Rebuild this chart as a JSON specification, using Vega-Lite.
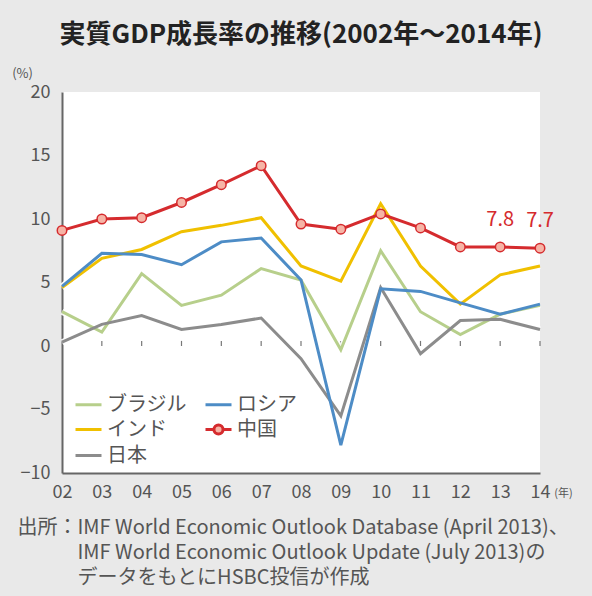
{
  "$schema": "https://vega.github.io/schema/vega-lite/v6.json",
  "autosize": "none",
  "width": 478,
  "height": 381,
  "padding": {"left": 62, "top": 92, "right": 52, "bottom": 123},
  "background": "#e9e9e9",
  "config": {
    "font": "Noto Sans CJK JP",
    "view": {"fill": "white", "stroke": null},
    "axis": {"grid": false, "labelFont": "Noto Sans CJK JP", "titleFont": "Noto Sans CJK JP"}
  },
  "title": {
    "text": "実質GDP成長率の推移(2002年～2014年)",
    "fontSize": 26,
    "fontWeight": "bold",
    "color": "#222",
    "anchor": "middle",
    "offset": 19
  },
  "resolve": {"axis": {"y": "independent"}},
  "data": {
    "values": [
      {"year": 2002, "country": "ブラジル", "value": 2.7},
      {"year": 2003, "country": "ブラジル", "value": 1.1},
      {"year": 2004, "country": "ブラジル", "value": 5.7},
      {"year": 2005, "country": "ブラジル", "value": 3.2},
      {"year": 2006, "country": "ブラジル", "value": 4.0},
      {"year": 2007, "country": "ブラジル", "value": 6.1},
      {"year": 2008, "country": "ブラジル", "value": 5.2},
      {"year": 2009, "country": "ブラジル", "value": -0.3},
      {"year": 2010, "country": "ブラジル", "value": 7.5},
      {"year": 2011, "country": "ブラジル", "value": 2.7},
      {"year": 2012, "country": "ブラジル", "value": 0.9},
      {"year": 2013, "country": "ブラジル", "value": 2.5},
      {"year": 2014, "country": "ブラジル", "value": 3.2},
      {"year": 2002, "country": "日本", "value": 0.3},
      {"year": 2003, "country": "日本", "value": 1.7},
      {"year": 2004, "country": "日本", "value": 2.4},
      {"year": 2005, "country": "日本", "value": 1.3},
      {"year": 2006, "country": "日本", "value": 1.7},
      {"year": 2007, "country": "日本", "value": 2.2},
      {"year": 2008, "country": "日本", "value": -1.0},
      {"year": 2009, "country": "日本", "value": -5.5},
      {"year": 2010, "country": "日本", "value": 4.6},
      {"year": 2011, "country": "日本", "value": -0.6},
      {"year": 2012, "country": "日本", "value": 2.0},
      {"year": 2013, "country": "日本", "value": 2.1},
      {"year": 2014, "country": "日本", "value": 1.3},
      {"year": 2002, "country": "インド", "value": 4.6},
      {"year": 2003, "country": "インド", "value": 6.9},
      {"year": 2004, "country": "インド", "value": 7.6},
      {"year": 2005, "country": "インド", "value": 9.0},
      {"year": 2006, "country": "インド", "value": 9.5},
      {"year": 2007, "country": "インド", "value": 10.1},
      {"year": 2008, "country": "インド", "value": 6.3},
      {"year": 2009, "country": "インド", "value": 5.1},
      {"year": 2010, "country": "インド", "value": 11.2},
      {"year": 2011, "country": "インド", "value": 6.3},
      {"year": 2012, "country": "インド", "value": 3.3},
      {"year": 2013, "country": "インド", "value": 5.6},
      {"year": 2014, "country": "インド", "value": 6.3},
      {"year": 2002, "country": "ロシア", "value": 4.7},
      {"year": 2003, "country": "ロシア", "value": 7.3},
      {"year": 2004, "country": "ロシア", "value": 7.2},
      {"year": 2005, "country": "ロシア", "value": 6.4},
      {"year": 2006, "country": "ロシア", "value": 8.2},
      {"year": 2007, "country": "ロシア", "value": 8.5},
      {"year": 2008, "country": "ロシア", "value": 5.2},
      {"year": 2009, "country": "ロシア", "value": -7.8},
      {"year": 2010, "country": "ロシア", "value": 4.5},
      {"year": 2011, "country": "ロシア", "value": 4.3},
      {"year": 2012, "country": "ロシア", "value": 3.4},
      {"year": 2013, "country": "ロシア", "value": 2.5},
      {"year": 2014, "country": "ロシア", "value": 3.3},
      {"year": 2002, "country": "中国", "value": 9.1},
      {"year": 2003, "country": "中国", "value": 10.0},
      {"year": 2004, "country": "中国", "value": 10.1},
      {"year": 2005, "country": "中国", "value": 11.3},
      {"year": 2006, "country": "中国", "value": 12.7},
      {"year": 2007, "country": "中国", "value": 14.2},
      {"year": 2008, "country": "中国", "value": 9.6},
      {"year": 2009, "country": "中国", "value": 9.2},
      {"year": 2010, "country": "中国", "value": 10.4},
      {"year": 2011, "country": "中国", "value": 9.3},
      {"year": 2012, "country": "中国", "value": 7.8},
      {"year": 2013, "country": "中国", "value": 7.8},
      {"year": 2014, "country": "中国", "value": 7.7}
    ]
  },
  "encoding": {
    "x": {
      "field": "year",
      "type": "quantitative",
      "scale": {"domain": [2002, 2014], "nice": false, "zero": false},
      "axis": {
        "values": [2002, 2003, 2004, 2005, 2006, 2007, 2008, 2009, 2010, 2011, 2012, 2013, 2014],
        "labelExpr": "slice(toString(datum.value), 2)",
        "labelFontSize": 18,
        "labelColor": "#555",
        "labelPadding": 10,
        "labelFlush": false,
        "labelOverlap": false,
        "labelBound": false,
        "ticks": false,
        "domainColor": "#666",
        "domainWidth": 2,
        "title": ["出所：IMF World Economic Outlook Database (April 2013)、", "\u200b\u3000\u3000\u3000IMF World Economic Outlook Update (July 2013)の", "\u200b\u3000\u3000\u3000データをもとにHSBC投信が作成"],
        "titleFontSize": 20,
        "titleFontWeight": "normal",
        "titleColor": "#555",
        "titleAlign": "left",
        "titleAnchor": "start",
        "titleBaseline": "top",
        "titleLineHeight": 25,
        "titleX": -45,
        "titleY": 44
      }
    }
  },
  "layer": [
    {
      "data": {"values": [{}]},
      "mark": {"type": "rule", "color": "#777", "strokeWidth": 1.5},
      "encoding": {"x": {"datum": 2002}, "x2": {"datum": 2014}, "y": {"datum": 0, "axis": null}}
    },
    {
      "transform": [{"filter": "datum.country === '中国' && datum.year > 2002"}],
      "mark": {"type": "rule", "color": "#777", "strokeWidth": 1.2},
      "encoding": {"y": {"datum": 0, "axis": null}, "y2": {"datum": 0.4}}
    },
    {
      "data": {"values": [{}]},
      "mark": {"type": "rule", "color": "#aaa", "strokeWidth": 1.2, "strokeDash": [7, 4]},
      "encoding": {"x": {"datum": 2013}, "y": {"datum": -10, "axis": null}, "y2": {"datum": 15.8}}
    },
    {
      "data": {"values": [{}]},
      "mark": {"type": "rule", "color": "#c4c4c4", "strokeWidth": 2.5},
      "encoding": {"x": {"datum": 2013}, "x2": {"datum": 2013.8}, "y": {"datum": 15.8, "axis": null}}
    },
    {
      "data": {"values": [{}]},
      "mark": {"type": "point", "shape": "triangle-right", "filled": true, "color": "#c4c4c4", "size": 110, "opacity": 1},
      "encoding": {"x": {"datum": 2013.8}, "y": {"datum": 15.8, "axis": null}}
    },
    {
      "data": {"values": [{}]},
      "mark": {"type": "text", "text": "予想", "fontSize": 19, "fontWeight": "bold", "color": "#333"},
      "encoding": {"x": {"datum": 2013}, "y": {"datum": 17.6, "axis": null}}
    },
    {
      "mark": {"type": "line", "color": "white", "strokeWidth": 6, "opacity": 0.9},
      "encoding": {
        "y": {
          "field": "value",
          "type": "quantitative",
          "axis": {
            "orient": "right",
            "labels": false,
            "ticks": false,
            "domain": false,
            "grid": false,
            "title": "(年)",
            "titleAngle": 0,
            "titleFontSize": 11,
            "titleFontWeight": "normal",
            "titleColor": "#555",
            "titleAlign": "center",
            "titleBaseline": "middle",
            "titleX": 23,
            "titleY": 401
          }
        },
        "detail": {"field": "country"}
      }
    },
    {
      "mark": {"type": "line", "strokeWidth": 3},
      "encoding": {
        "y": {
          "field": "value",
          "type": "quantitative",
          "scale": {"domain": [-10, 20], "nice": false},
          "axis": {
            "values": [-10, -5, 0, 5, 10, 15, 20],
            "labelFontSize": 18,
            "labelColor": "#555",
            "labelPadding": 12,
            "ticks": false,
            "domainColor": "#666",
            "domainWidth": 2,
            "title": "(%)",
            "titleAngle": 0,
            "titleFontSize": 13,
            "titleFontWeight": "normal",
            "titleColor": "#555",
            "titleAlign": "center",
            "titleBaseline": "middle",
            "titleX": -40,
            "titleY": -19
          }
        },
        "color": {
          "field": "country",
          "type": "nominal",
          "scale": {
            "domain": ["ブラジル", "インド", "日本", "ロシア", "中国"],
            "range": ["#b7cf8b", "#f0c000", "#8c8c8c", "#4d8cc6", "#d52b2e"]
          },
          "legend": {
            "orient": "none",
            "legendX": 12,
            "legendY": 298,
            "columns": 2,
            "title": null,
            "symbolType": "stroke",
            "symbolSize": 676,
            "symbolStrokeWidth": 3,
            "labelFontSize": 20,
            "labelColor": "#555",
            "labelOffset": 4,
            "columnPadding": 12,
            "rowPadding": 0,
            "labelFont": "Noto Sans CJK JP",
            "encode": {
              "symbols": {
                "update": {
                  "shape": {"signal": "datum.label === '中国' ? 'M-1,0L-0.35,0A0.35,0.35,0,1,1,0.35,0L1,0M0.35,0A0.35,0.35,0,1,1,-0.35,0' : 'stroke'"},
                  "fill": {"signal": "datum.label === '中国' ? '#f6b4a6' : 'transparent'"}
                }
              }
            }
          }
        }
      }
    },
    {
      "transform": [{"filter": "datum.country === '中国'"}],
      "mark": {"type": "point", "filled": true, "fill": "#f6b4a6", "stroke": "#d52b2e", "strokeWidth": 1.5, "size": 90, "opacity": 1},
      "encoding": {"y": {"field": "value", "type": "quantitative", "axis": null}}
    },
    {
      "transform": [{"filter": "datum.country === '中国' && datum.year >= 2013"}],
      "mark": {"type": "text", "fontSize": 20, "color": "#d52b2e", "dy": -27},
      "encoding": {"y": {"field": "value", "type": "quantitative", "axis": null}, "text": {"field": "value", "type": "quantitative", "format": ".1f"}}
    }
  ]
}
